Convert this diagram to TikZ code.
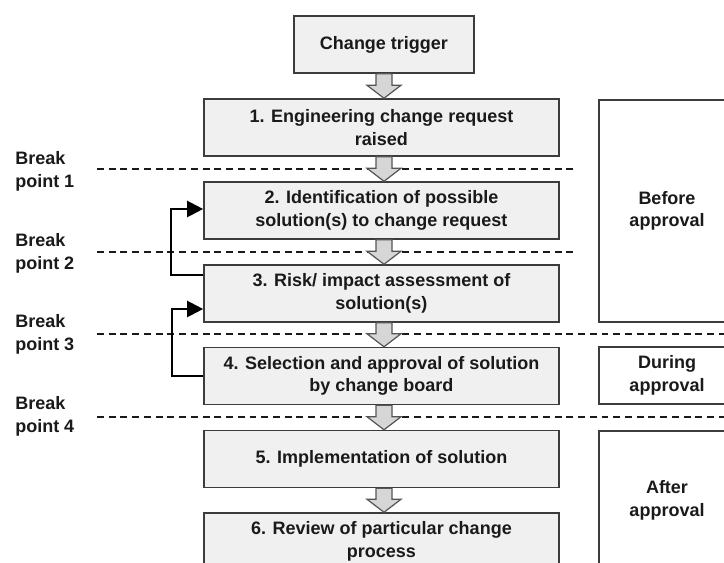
\documentclass[tikz,border=0pt]{standalone}
\usepackage{fontspec}
\setmainfont{Liberation Sans}
\usetikzlibrary{calc,arrows.meta}
\definecolor{boxfill}{HTML}{F0F0F0}
\definecolor{boxline}{HTML}{3C3C3C}
\definecolor{arrfill}{HTML}{D6D6D6}
\definecolor{arrline}{HTML}{555555}
\definecolor{txt}{HTML}{1A1A1A}
\newcommand\flowarrow[2]{%
  \path ($(#2.north)+(2.6,0)$) coordinate (tip) (tip |- #1.south) coordinate (top);
  \draw[blockarr] ($(top)+(-8,0)$) -- ($(top)+(8,0)$) -- ($(tip)+(8,-13)$) -- ($(tip)+(17,-13)$)
    -- (tip) -- ($(tip)+(-17,-13)$) -- ($(tip)+(-8,-13)$) -- cycle;
}
\begin{document}
\begin{tikzpicture}[x=0.75pt,y=-0.75pt,
  font=\bfseries\fontsize{13.5}{16.8}\selectfont,
  stepbox/.style={draw=boxline, fill=boxfill, line width=1.1pt, minimum width=266.25pt,
    minimum height=42.75pt, align=center, inner sep=0pt, text=txt},
  panel/.style={draw=boxline, fill=white, line width=1.1pt, minimum width=102pt,
    align=center, inner sep=0pt, text=txt},
  blockarr/.style={draw=arrline, fill=arrfill, line width=0.9pt, line join=miter},
  brk/.style={draw=txt, line width=1pt, dash pattern=on 5.2pt off 3.6pt},
  fb/.style={draw=black, line width=1.7pt, -{Triangle[length=12pt,width=12pt]}},
  lbl/.style={anchor=west, align=left, inner sep=0pt, text=txt}]
\clip (0,0) rectangle (724,563);
\fill[white] (0,0) rectangle (724,563);

% break lines
\coordinate (d1l) at (97,169);  \coordinate (d1r) at (577,169);
\coordinate (d2l) at (97,252);  \coordinate (d2r) at (577,252);
\coordinate (d3l) at (97,334);  \coordinate (d3r) at (730,334);
\coordinate (d4l) at (97,417);  \coordinate (d4r) at (730,417);
\draw[brk] (d1l) -- (d1r);
\draw[brk] (d2l) -- (d2r);
\draw[brk] (d3l) -- (d3r);
\draw[brk] (d4l) -- (d4r);

% labels
\node[lbl] (l1) at (15,171.5) {Break\\point 1};
\node[lbl] (l2) at (15,253.5) {Break\\point 2};
\node[lbl] (l3) at (15,334.5) {Break\\point 3};
\node[lbl] (l4) at (15,416.5) {Break\\point 4};

% process boxes
\node[stepbox, minimum width=135pt] (ct) at (384,44.5) {Change trigger};
\node[stepbox] (b1) at (381.4,127.5) {1. Engineering change request\\raised};
\node[stepbox] (b2) at (381.4,210.5) {2. Identification of possible\\solution(s) to change request};
\node[stepbox] (b3) at (381.4,293.5) {3. Risk/ impact assessment of\\solution(s)};
\node[stepbox] (b4) at (381.4,376) {4. Selection and approval of solution\\by change board};
\node[stepbox] (b5) at (381.4,459) {5. Implementation of solution};
\node[stepbox] (b6) at (381.4,541.5) {6. Review of particular change\\process};

% phase panels
\node[panel, minimum height=166.5pt] (pb) at (667,211) {Before\\approval};
\node[panel, minimum height=42.75pt] (pd) at (667,375.5) {During\\approval};
\node[panel, minimum height=104.25pt] (pa) at (667,500.5) {After\\approval};

% flow arrows
\flowarrow{ct}{b1}
\flowarrow{b1}{b2}
\flowarrow{b2}{b3}
\flowarrow{b3}{b4}
\flowarrow{b4}{b5}
\flowarrow{b5}{b6}

% feedback loops
\draw[fb] ($(b3.west)+(0,-18.5)$) -- ++(-32,0) |- ($(b2.west)+(0,-1.5)$);
\draw[fb] (b4.west) -- ++(-31,0) |- ($(b3.west)+(0,15.5)$);
\end{tikzpicture}
\end{document}
